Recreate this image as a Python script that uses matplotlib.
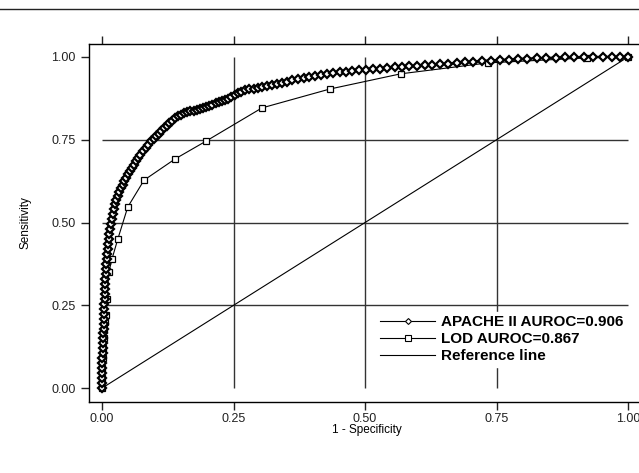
import matplotlib.pyplot as plt
from matplotlib.lines import Line2D

# ROC data (1 - specificity, sensitivity)
apache_fpr = [0, 0, 0, 0, 0, 0, 0, 0.001, 0.001, 0.002,
              0.002, 0.002, 0.003, 0.003, 0.003, 0.004, 0.004, 0.004, 0.005, 0.005,
              0.005, 0.006, 0.006, 0.007, 0.007, 0.008, 0.009, 0.010, 0.011, 0.012,
              0.013, 0.014, 0.016, 0.017, 0.019, 0.021, 0.023, 0.025, 0.027, 0.030,
              0.033, 0.036, 0.039, 0.042, 0.045, 0.049, 0.053, 0.057, 0.061, 0.065,
              0.069, 0.073, 0.078, 0.083, 0.088, 0.093, 0.098, 0.103, 0.108, 0.113,
              0.118, 0.123, 0.128, 0.133, 0.138, 0.144, 0.150, 0.156, 0.162, 0.168,
              0.174, 0.180, 0.186, 0.192, 0.198, 0.204, 0.210, 0.216, 0.222, 0.228,
              0.234, 0.240, 0.246, 0.252, 0.258, 0.265, 0.272, 0.280, 0.288, 0.296,
              0.305, 0.314, 0.323, 0.332, 0.342, 0.352, 0.362, 0.372, 0.383, 0.394,
              0.405, 0.416, 0.428, 0.440, 0.452, 0.464, 0.476, 0.489, 0.502, 0.515,
              0.528, 0.542, 0.556, 0.570, 0.584, 0.598, 0.613, 0.628, 0.643, 0.658,
              0.674, 0.690, 0.706, 0.722, 0.739, 0.756, 0.773, 0.790, 0.808, 0.826,
              0.844, 0.862, 0.880, 0.898, 0.916, 0.934, 0.952, 0.970, 0.985, 1.0]
apache_tpr = [0, 0.015, 0.03, 0.045, 0.06, 0.075, 0.09, 0.105, 0.12, 0.135,
              0.15, 0.165, 0.18, 0.195, 0.21, 0.225, 0.24, 0.255, 0.27, 0.285,
              0.30, 0.315, 0.33, 0.345, 0.36, 0.375, 0.39, 0.405, 0.42, 0.435,
              0.45, 0.465, 0.48, 0.495, 0.51, 0.525, 0.54, 0.555, 0.567, 0.58,
              0.592, 0.603, 0.614, 0.625, 0.635, 0.645, 0.655, 0.665, 0.675, 0.685,
              0.695, 0.705, 0.715, 0.725, 0.735, 0.745, 0.752, 0.76, 0.768, 0.776,
              0.784, 0.792, 0.80, 0.808, 0.815, 0.821, 0.826, 0.830, 0.834, 0.836,
              0.838, 0.840, 0.842, 0.845, 0.848, 0.852, 0.856, 0.860, 0.863, 0.866,
              0.869, 0.873, 0.878, 0.884, 0.890, 0.895, 0.899, 0.902, 0.904, 0.906,
              0.908, 0.911, 0.914, 0.917, 0.921, 0.925, 0.929, 0.932, 0.936, 0.939,
              0.942, 0.945, 0.948, 0.951, 0.953, 0.955, 0.957, 0.959, 0.961, 0.963,
              0.965, 0.967, 0.969, 0.970, 0.972, 0.973, 0.975, 0.976, 0.978, 0.980,
              0.982, 0.984, 0.986, 0.988, 0.989, 0.991, 0.992, 0.994, 0.995, 0.996,
              0.997, 0.998, 0.999, 0.999, 1.0, 1.0, 1.0, 1.0, 1.0, 1.0]

lod_fpr = [0, 0, 0, 0.001, 0.002, 0.003, 0.004, 0.006, 0.008, 0.0095, 0.013,
           0.019, 0.030, 0.049, 0.080, 0.139, 0.198, 0.304, 0.433, 0.568,
           0.734, 0.922, 1.0]
lod_tpr = [0, 0.03, 0.06, 0.09, 0.12, 0.15, 0.18, 0.20, 0.22, 0.27, 0.35,
           0.39, 0.45, 0.547, 0.628, 0.692, 0.746, 0.846, 0.903, 0.949,
           0.982, 0.997, 1.0]

ticks = [0, 0.25, 0.5, 0.75, 1.0]
tick_labels = ['0.00', '0.25', '0.50', '0.75', '1.00']
grid_vals = [0.25, 0.5, 0.75]

plt.rcParams['font.family'] = ['Liberation Sans', 'DejaVu Sans']

fig = plt.figure(figsize=(6.39, 4.73), dpi=100)
ax = fig.add_axes([0.1393, 0.150, 0.870, 0.757])

# header rule across the page
fig.add_artist(Line2D([0, 1], [1 - 9 / 473, 1 - 9 / 473], color='#222222', lw=1.0,
                      transform=fig.transFigure))

# grid lines only inside the 0..1 square
ax.hlines(grid_vals, 0, 1, color='#333333', lw=1.0, zorder=1)
ax.vlines(grid_vals, 0, 1, color='#333333', lw=1.0, zorder=1)

ax.plot([0, 1], [0, 1], color='black', lw=0.8, zorder=2)
ax.plot(lod_fpr, lod_tpr, color='black', lw=0.8, marker='s', markersize=5,
        markerfacecolor='white', markeredgecolor='black', markeredgewidth=0.9,
        zorder=3)
ax.plot(apache_fpr, apache_tpr, color='black', lw=1.5, marker='D', markersize=4,
        markerfacecolor='white', markeredgecolor='black', markeredgewidth=1.6,
        zorder=4)

ax.set_xlim(-0.0247, 1.032)
ax.set_ylim(-0.042, 1.039)
ax.set_xticks(ticks)
ax.set_xticklabels(tick_labels)
ax.set_yticks(ticks)
ax.set_yticklabels(tick_labels)
ax.tick_params(axis='both', direction='out', length=6, width=1, labelsize=9,
               colors='#222222')
ax.tick_params(axis='x', top=True, labeltop=False, pad=2)
ax.spines['right'].set_visible(False)
for side in ['left', 'bottom', 'top']:
    ax.spines[side].set_linewidth(1.0)

ax.set_xlabel('1 - Specificity', fontsize=8.5, labelpad=-1)
ax.set_ylabel('Sensitivity', fontsize=8.5, labelpad=14)

# legend handles with the small markers of the original
h_apache = Line2D([], [], color='black', lw=0.8, marker='D', markersize=3,
                  markerfacecolor='white', markeredgewidth=0.8)
h_lod = Line2D([], [], color='black', lw=0.8, marker='s', markersize=4,
               markerfacecolor='white', markeredgewidth=0.8)
h_ref = Line2D([], [], color='black', lw=0.8)
leg = ax.legend([h_apache, h_lod, h_ref],
                ['APACHE II AUROC=0.906', 'LOD AUROC=0.867', 'Reference line'],
                loc='upper left', bbox_to_anchor=(0.505, 0.272),
                frameon=True, fancybox=False, framealpha=1, edgecolor='white',
                facecolor='white', handlelength=3.6, handletextpad=0.35,
                labelspacing=0.2, borderpad=0.2,
                prop={'weight': 'bold', 'size': 11})

fig.savefig('out.png', dpi=100)
